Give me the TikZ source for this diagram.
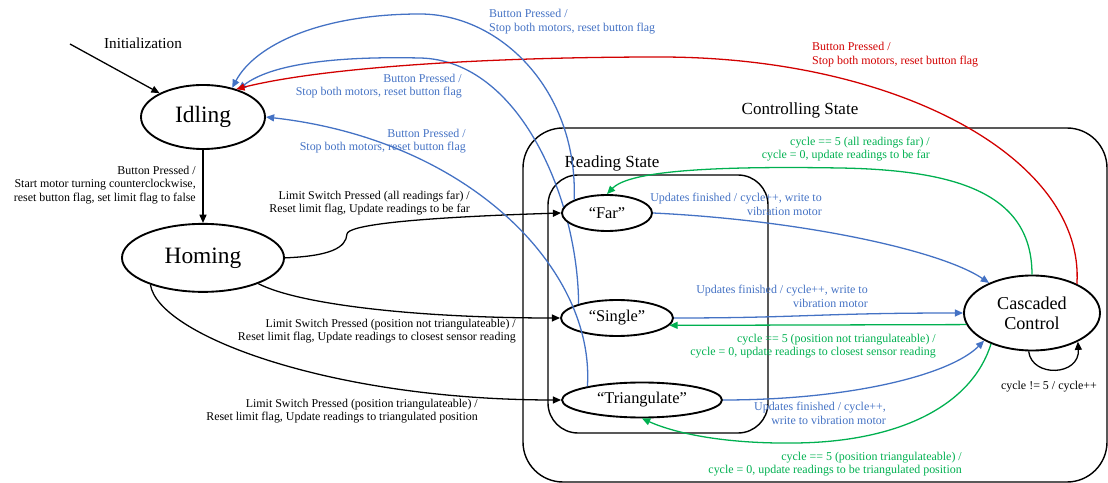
\documentclass[tikz,border=0pt]{standalone}
\usepackage{fontspec}
\setmainfont{Liberation Serif}
\usepackage{xcolor}
\usetikzlibrary{shapes.geometric, arrows.meta, positioning}

\definecolor{ctrlblue}{RGB}{68,114,196}
\definecolor{ctrlgreen}{RGB}{0,176,80}
\definecolor{ctrlred}{RGB}{210,0,0}

\begin{document}
\begin{tikzpicture}[
    x=0.03cm, y=-0.03cm,
    >={Triangle[length=7pt,width=6pt]},
    % Styles
    bigstate/.style={ellipse, draw, line width=1.6pt, fill=white, inner sep=0pt, font=\fontsize{20}{24}\selectfont},
    substate/.style={ellipse, draw, line width=1.6pt, fill=white, inner sep=0pt, font=\fontsize{14}{17}\selectfont},
    cascstate/.style={ellipse, draw, line width=1.6pt, fill=white, inner sep=0pt, align=center, font=\fontsize{15.5}{17}\selectfont},
    region/.style={draw, line width=1.2pt, rounded corners=#1},
    regiontitle/.style={inner sep=0pt, font=\fontsize{14.5}{17}\selectfont},
    trans/.style={->, line width=1.1pt, color=#1},
    trans/.default=black,
    translabel/.style={inner sep=0pt, align=right, text=#1, font=\fontsize{10.2}{11.7}\selectfont},
    translabel/.default=black,
]
\useasboundingbox (0,0) rectangle (1108,483);

% ── Nested states ──
\draw[region=1.2cm] (523,128) rectangle (1107,482);
\draw[region=0.9cm] (548,175) rectangle (768,433);
\node[regiontitle] (ctrltitle) at (800,110) {Controlling State};
\node[regiontitle] (readtitle) at (612,163) {Reading State};

% ── States ──
\node[bigstate, minimum width=3.72cm, minimum height=1.92cm] (idling) at (203,117) {Idling};
\node[bigstate, minimum width=4.86cm, minimum height=2.04cm, below=2.19cm of idling] (homing) {Homing};
\node[substate, minimum width=3.36cm, minimum height=1.08cm] (single) at (617,318) {“Single”};
\node[substate, minimum width=4.8cm, minimum height=1.05cm] (triang) at (642,400) {“Triangulate”};
\node[cascstate, minimum width=4.08cm, minimum height=2.25cm] (cascaded) at (1032,313) {Cascaded\\Control};

% this one runs behind "Far"
\draw[trans=ctrlblue] (single.160) .. controls (578,200) and (520,60) .. (420,58) .. controls (330,56) and (270,65) .. (idling.38);
\node[substate, minimum width=2.7cm, minimum height=1.08cm] (far) at (607,213) {“Far”};

% ── Initialization ──
\coordinate (initstart) at (70,44);
\node[inner sep=0pt, font=\fontsize{13}{15}\selectfont] (initlabel) at (143,43) {Initialization};
\draw[trans] (initstart) -- (idling);

% ── Idling / Homing ──
\draw[trans] (idling) -- (homing);
\node[translabel, anchor=east] (lblhome) at (196,185) {Button Pressed /\\Start motor turning counterclockwise,\\reset button flag, set limit flag to false};

\draw[trans] (homing.east) .. controls (330,256) and (346,248) .. (347,234) .. controls (348,226) and (400,218) .. (far.west);
\node[translabel, anchor=east] (lblfar) at (470,203) {Limit Switch Pressed (all readings far) /\\Reset limit flag, Update readings to be far};

\draw[trans] (homing.-25) .. controls (300,305) and (420,318) .. (single.west);
\node[translabel, anchor=east] (lblsingle) at (516,331) {Limit Switch Pressed (position not triangulateable) /\\Reset limit flag, Update readings to closest sensor reading};

\draw[trans] (homing.-153) .. controls (158,335) and (330,400) .. (triang.west);
\node[translabel, anchor=east] (lbltri) at (478,411) {Limit Switch Pressed (position triangulateable) /\\Reset limit flag, Update readings to triangulated position};

% ── Reading -> Cascaded Control ──
\draw[trans=ctrlblue] (far.east) .. controls (800,220) and (940,250) .. (cascaded.145);
\node[translabel=ctrlblue, anchor=east] (lblfarcc) at (822,204) {Updates finished / cycle++, write to\\vibration motor};

\draw[trans=ctrlblue] (single.east) .. controls (800,318) and (820,313) .. (cascaded.west);
\node[translabel=ctrlblue, anchor=east] (lblsinglecc) at (868,296) {Updates finished / cycle++, write to\\vibration motor};

\draw[trans=ctrlblue] (triang.east) .. controls (850,400) and (950,375) .. (cascaded.-150);
\node[translabel=ctrlblue, anchor=east] (lbltricc) at (886,413) {Updates finished / cycle++,\\write to vibration motor};

% ── Cascaded Control -> Reading ──
\draw[trans=ctrlgreen] (cascaded.north) .. controls (1032,195) and (960,170) .. (840,168) .. controls (720,166) and (630,170) .. (far.north);
\node[translabel=ctrlgreen, anchor=east] (lblccfar) at (930,149) {cycle == 5 (all readings far) /\\cycle = 0, update readings to be far};

\draw[trans=ctrlgreen] (cascaded.-170) -- (single.-8);
\node[translabel=ctrlgreen, anchor=east] (lblccsingle) at (936,346) {cycle == 5 (position not triangulateable) /\\cycle = 0, update readings to closest sensor reading};

\draw[trans=ctrlgreen] (cascaded.-143) .. controls (972,405) and (900,442) .. (795,443) .. controls (720,444) and (672,432) .. (triang.south);
\node[translabel=ctrlgreen, anchor=east] (lblcctri) at (962,464) {cycle == 5 (position triangulateable) /\\cycle = 0, update readings to be triangulated position};

\draw[trans] (cascaded.-95) .. controls (1032,378) and (1080,376) .. (cascaded.-32);
\node[translabel, align=center] (lblloop) at (1049,387) {cycle != 5 / cycle++};

% ── Button pressed -> Idling ──
\draw[trans=ctrlred] (cascaded.33) .. controls (1085,160) and (900,57) .. (660,57) .. controls (480,57) and (320,68) .. (idling.40);
\node[translabel=ctrlred, align=left, anchor=west] (lblred) at (812,55) {Button Pressed /\\Stop both motors, reset button flag};

\draw[trans=ctrlblue] (far.158) .. controls (578,90) and (500,14) .. (420,14) .. controls (320,14) and (255,45) .. (idling.45);
\node[translabel=ctrlblue, align=left, anchor=west] (lblfaridle) at (489,22) {Button Pressed /\\Stop both motors, reset button flag};

\node[translabel=ctrlblue, anchor=east] (lblsingleidle) at (462,86) {Button Pressed /\\Stop both motors, reset button flag};

\draw[trans=ctrlblue] (triang.166) .. controls (595,270) and (470,140) .. (idling.east);
\node[translabel=ctrlblue, anchor=east] (lbltriidle) at (466,141) {Button Pressed /\\Stop both motors, reset button flag};

\end{tikzpicture}
\end{document}
